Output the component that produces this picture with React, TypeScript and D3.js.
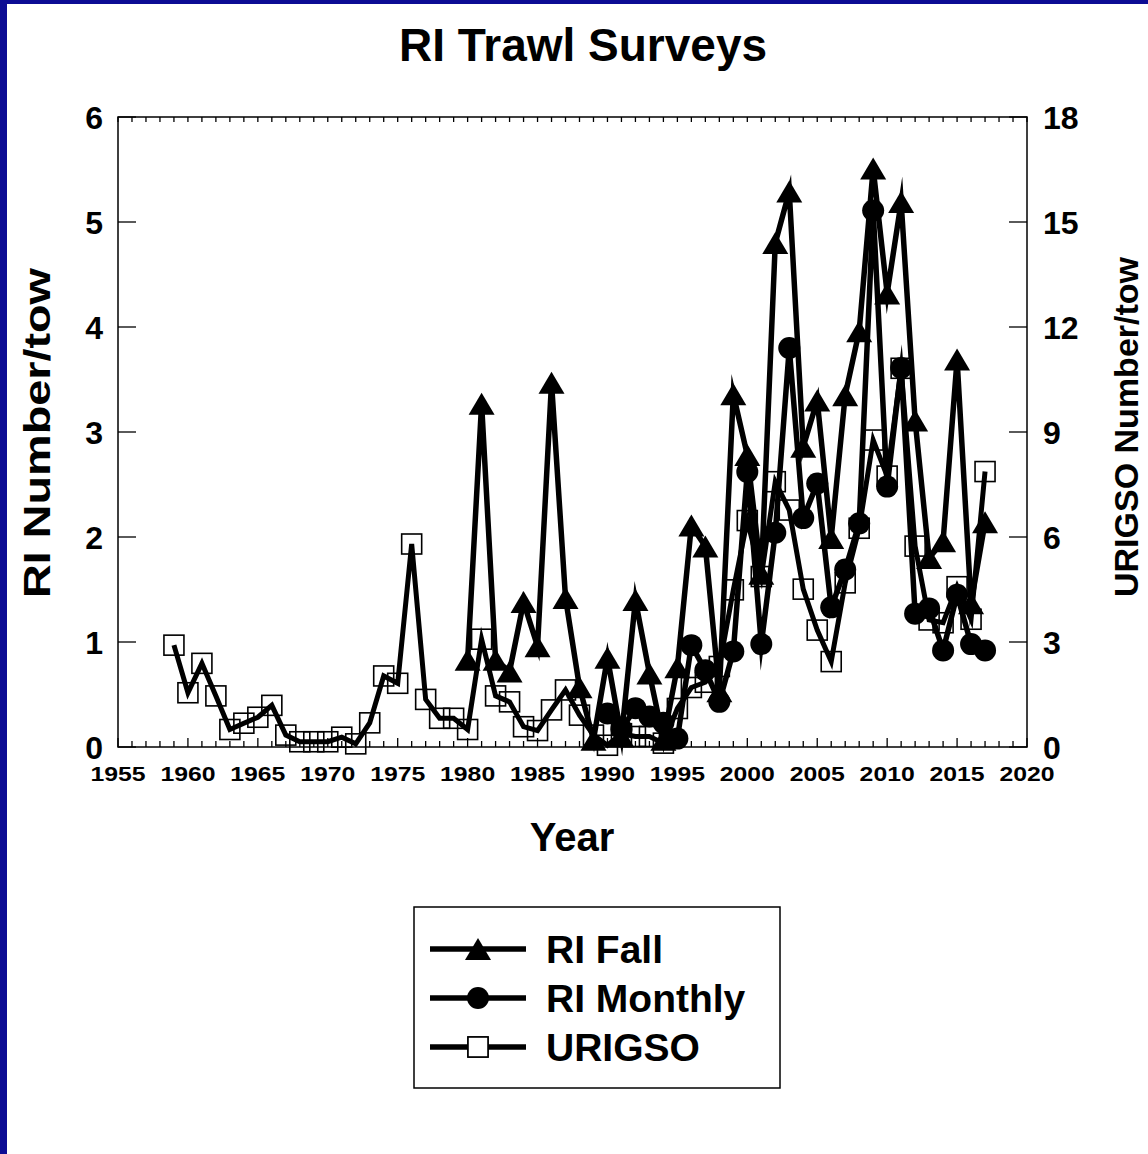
import React from "react";
import * as d3 from "d3";

const fallYears = d3.range(1980, 2018);
const fallValues = [
  0.83, 3.27, 0.83, 0.72, 1.38, 0.96, 3.47, 1.42, 0.57, 0.07,
  0.85, 0.1, 1.4, 0.7, 0.07, 0.76, 2.11, 1.91, 0.53, 3.36,
  2.78, 1.65, 4.8, 5.29, 2.86, 3.3, 1.99, 3.35, 3.96, 5.51,
  4.32, 5.19, 3.11, 1.8, 1.96, 3.69, 1.37, 2.14,
];

const monthlyYears = d3.range(1990, 2018);
const monthlyValues = [
  0.32, 0.17, 0.37, 0.29, 0.23, 0.08, 0.97, 0.73, 0.43, 0.91,
  2.62, 0.98, 2.04, 3.8, 2.18, 2.51, 1.33, 1.69, 2.13, 5.11,
  2.48, 3.61, 1.27, 1.32, 0.92, 1.45, 0.98, 0.92,
];

const urigsoYears = d3.range(1959, 2018);
const urigsoValues = [
  2.91, 1.55, 2.39, 1.46, 0.5, 0.68, 0.85, 1.19, 0.34, 0.15,
  0.15, 0.15, 0.28, 0.09, 0.69, 2.03, 1.82, 5.8, 1.36, 0.82,
  0.82, 0.5, 3.08, 1.46, 1.29, 0.58, 0.47, 1.06, 1.63, 0.91,
  0.34, 0.05, 0.38, 0.3, 0.3, 0.11, 1.1, 1.7, 1.85, 2.3,
  4.49, 6.47, 4.87, 7.58, 6.77, 4.51, 3.34, 2.44, 4.69, 6.25,
  8.77, 7.74, 10.82, 5.74, 3.63, 3.55, 4.58, 3.65, 7.87,
];

const leftTicks = [0, 1, 2, 3, 4, 5, 6];
const rightTicks = [0, 3, 6, 9, 12, 15, 18];
const yearTicks = d3.range(1955, 2021, 5);
const minorYears = d3.range(1955, 2021, 1);
const legendLabels = ["RI Fall", "RI Monthly", "URIGSO"];

const W = 1148;
const H = 1154;
const FONT = "'Liberation Sans', Arial, Helvetica, sans-serif";

export default function App() {
  const x = d3.scaleLinear().domain([1955, 2020]).range([118, 1027]);
  const yL = d3.scaleLinear().domain([0, 6]).range([747, 117]);
  const yR = d3.scaleLinear().domain([0, 18]).range([747, 117]);

  const fall = fallYears.map((yr, i) => [x(yr), yL(fallValues[i])] as [number, number]);
  const monthly = monthlyYears.map((yr, i) => [x(yr), yL(monthlyValues[i])] as [number, number]);
  const urigso = urigsoYears.map((yr, i) => [x(yr), yR(urigsoValues[i])] as [number, number]);

  const line = d3.line<[number, number]>();
  const tri = "M0,-11L13,11L-13,11Z";
  const [x0, x1] = x.range();
  const [yb, yt] = yL.range();

  const marker = (kind: number, cx: number, cy: number, key: string) => {
    if (kind === 0) return <path key={key} d={tri} transform={`translate(${cx},${cy})`} fill="#000" />;
    if (kind === 1) return <circle key={key} cx={cx} cy={cy} r={11} fill="#000" />;
    return <rect key={key} x={cx - 10} y={cy - 10} width={20} height={20} fill="none" stroke="#000" strokeWidth={1.6} />;
  };

  return (
    <svg width={W} height={H} style={{ position: "absolute", left: 0, top: 0, background: "#fff" }} fontFamily={FONT}>
      <rect x={0} y={0} width={W} height={H} fill="#fff" />
      <rect x={0} y={0} width={7} height={H} fill="#0c0c94" />
      <rect x={0} y={0} width={W} height={4} fill="#0c0c94" />

      <text x={583} y={61} textAnchor="middle" fontSize={46} fontWeight="bold">RI Trawl Surveys</text>

      {/* frame */}
      <rect x={x0} y={yt} width={x1 - x0} height={yb - yt} fill="none" stroke="#000" strokeWidth={1.5} />
      {minorYears.map((yr) => (
        <g key={"m" + yr}>
          <line x1={x(yr)} x2={x(yr)} y1={yb} y2={yb - (yr % 5 === 0 ? 9 : 6)} stroke="#000" strokeWidth={1.3} />
          <line x1={x(yr)} x2={x(yr)} y1={yt} y2={yt + 5} stroke="#000" strokeWidth={1.3} />
        </g>
      ))}
      {leftTicks.map((t) => (
        <g key={"l" + t}>
          <line x1={x0} x2={x0 + 18} y1={yL(t)} y2={yL(t)} stroke="#000" strokeWidth={1.3} />
          <text x={103} y={yL(t) + 12} textAnchor="end" fontSize={32} fontWeight="bold">{t}</text>
        </g>
      ))}
      {rightTicks.map((t) => (
        <g key={"r" + t}>
          <line x1={x1} x2={x1 - 18} y1={yR(t)} y2={yR(t)} stroke="#000" strokeWidth={1.3} />
          <text x={1043} y={yR(t) + 12} textAnchor="start" fontSize={32} fontWeight="bold">{t}</text>
        </g>
      ))}
      {yearTicks.map((yr) => (
        <text key={"y" + yr} transform={`translate(${x(yr)},781) scale(1.18,1)`} textAnchor="middle" fontSize={21} fontWeight="bold">{yr}</text>
      ))}

      <text x={572} y={851} textAnchor="middle" fontSize={40} fontWeight="bold">Year</text>
      <text transform="translate(50,433) rotate(-90)" textAnchor="middle" fontSize={37} fontWeight="bold" textLength={330} lengthAdjust="spacingAndGlyphs">RI Number/tow</text>
      <text transform="translate(1138,427) rotate(-90)" textAnchor="middle" fontSize={34} fontWeight="bold">URIGSO Number/tow</text>

      {/* series */}
      <path d={line(fall) || ""} fill="none" stroke="#000" strokeWidth={5.5} strokeLinejoin="miter" strokeMiterlimit={10} />
      {fall.map(([cx, cy], i) => marker(0, cx, cy, "f" + i))}
      <path d={line(monthly) || ""} fill="none" stroke="#000" strokeWidth={5.5} strokeLinejoin="miter" strokeMiterlimit={10} />
      {monthly.map(([cx, cy], i) => marker(1, cx, cy, "c" + i))}
      <path d={line(urigso) || ""} fill="none" stroke="#000" strokeWidth={5} strokeLinejoin="miter" strokeMiterlimit={10} />
      {urigso.map(([cx, cy], i) => marker(2, cx, cy, "s" + i))}

      {/* legend */}
      <rect x={414} y={907} width={366} height={181} fill="#fff" stroke="#000" strokeWidth={1.5} />
      {legendLabels.map((lab, i) => {
        const ly = 949 + i * 49;
        return (
          <g key={lab}>
            <line x1={430} x2={526} y1={ly} y2={ly} stroke="#000" strokeWidth={5.5} />
            {marker(i, 478, ly, "lm" + i)}
            {i === 2 ? <rect x={468} y={ly - 10} width={20} height={20} fill="#fff" stroke="#000" strokeWidth={1.6} /> : null}
            <text x={546} y={ly + 14} fontSize={39} fontWeight="bold">{lab}</text>
          </g>
        );
      })}
    </svg>
  );
}
